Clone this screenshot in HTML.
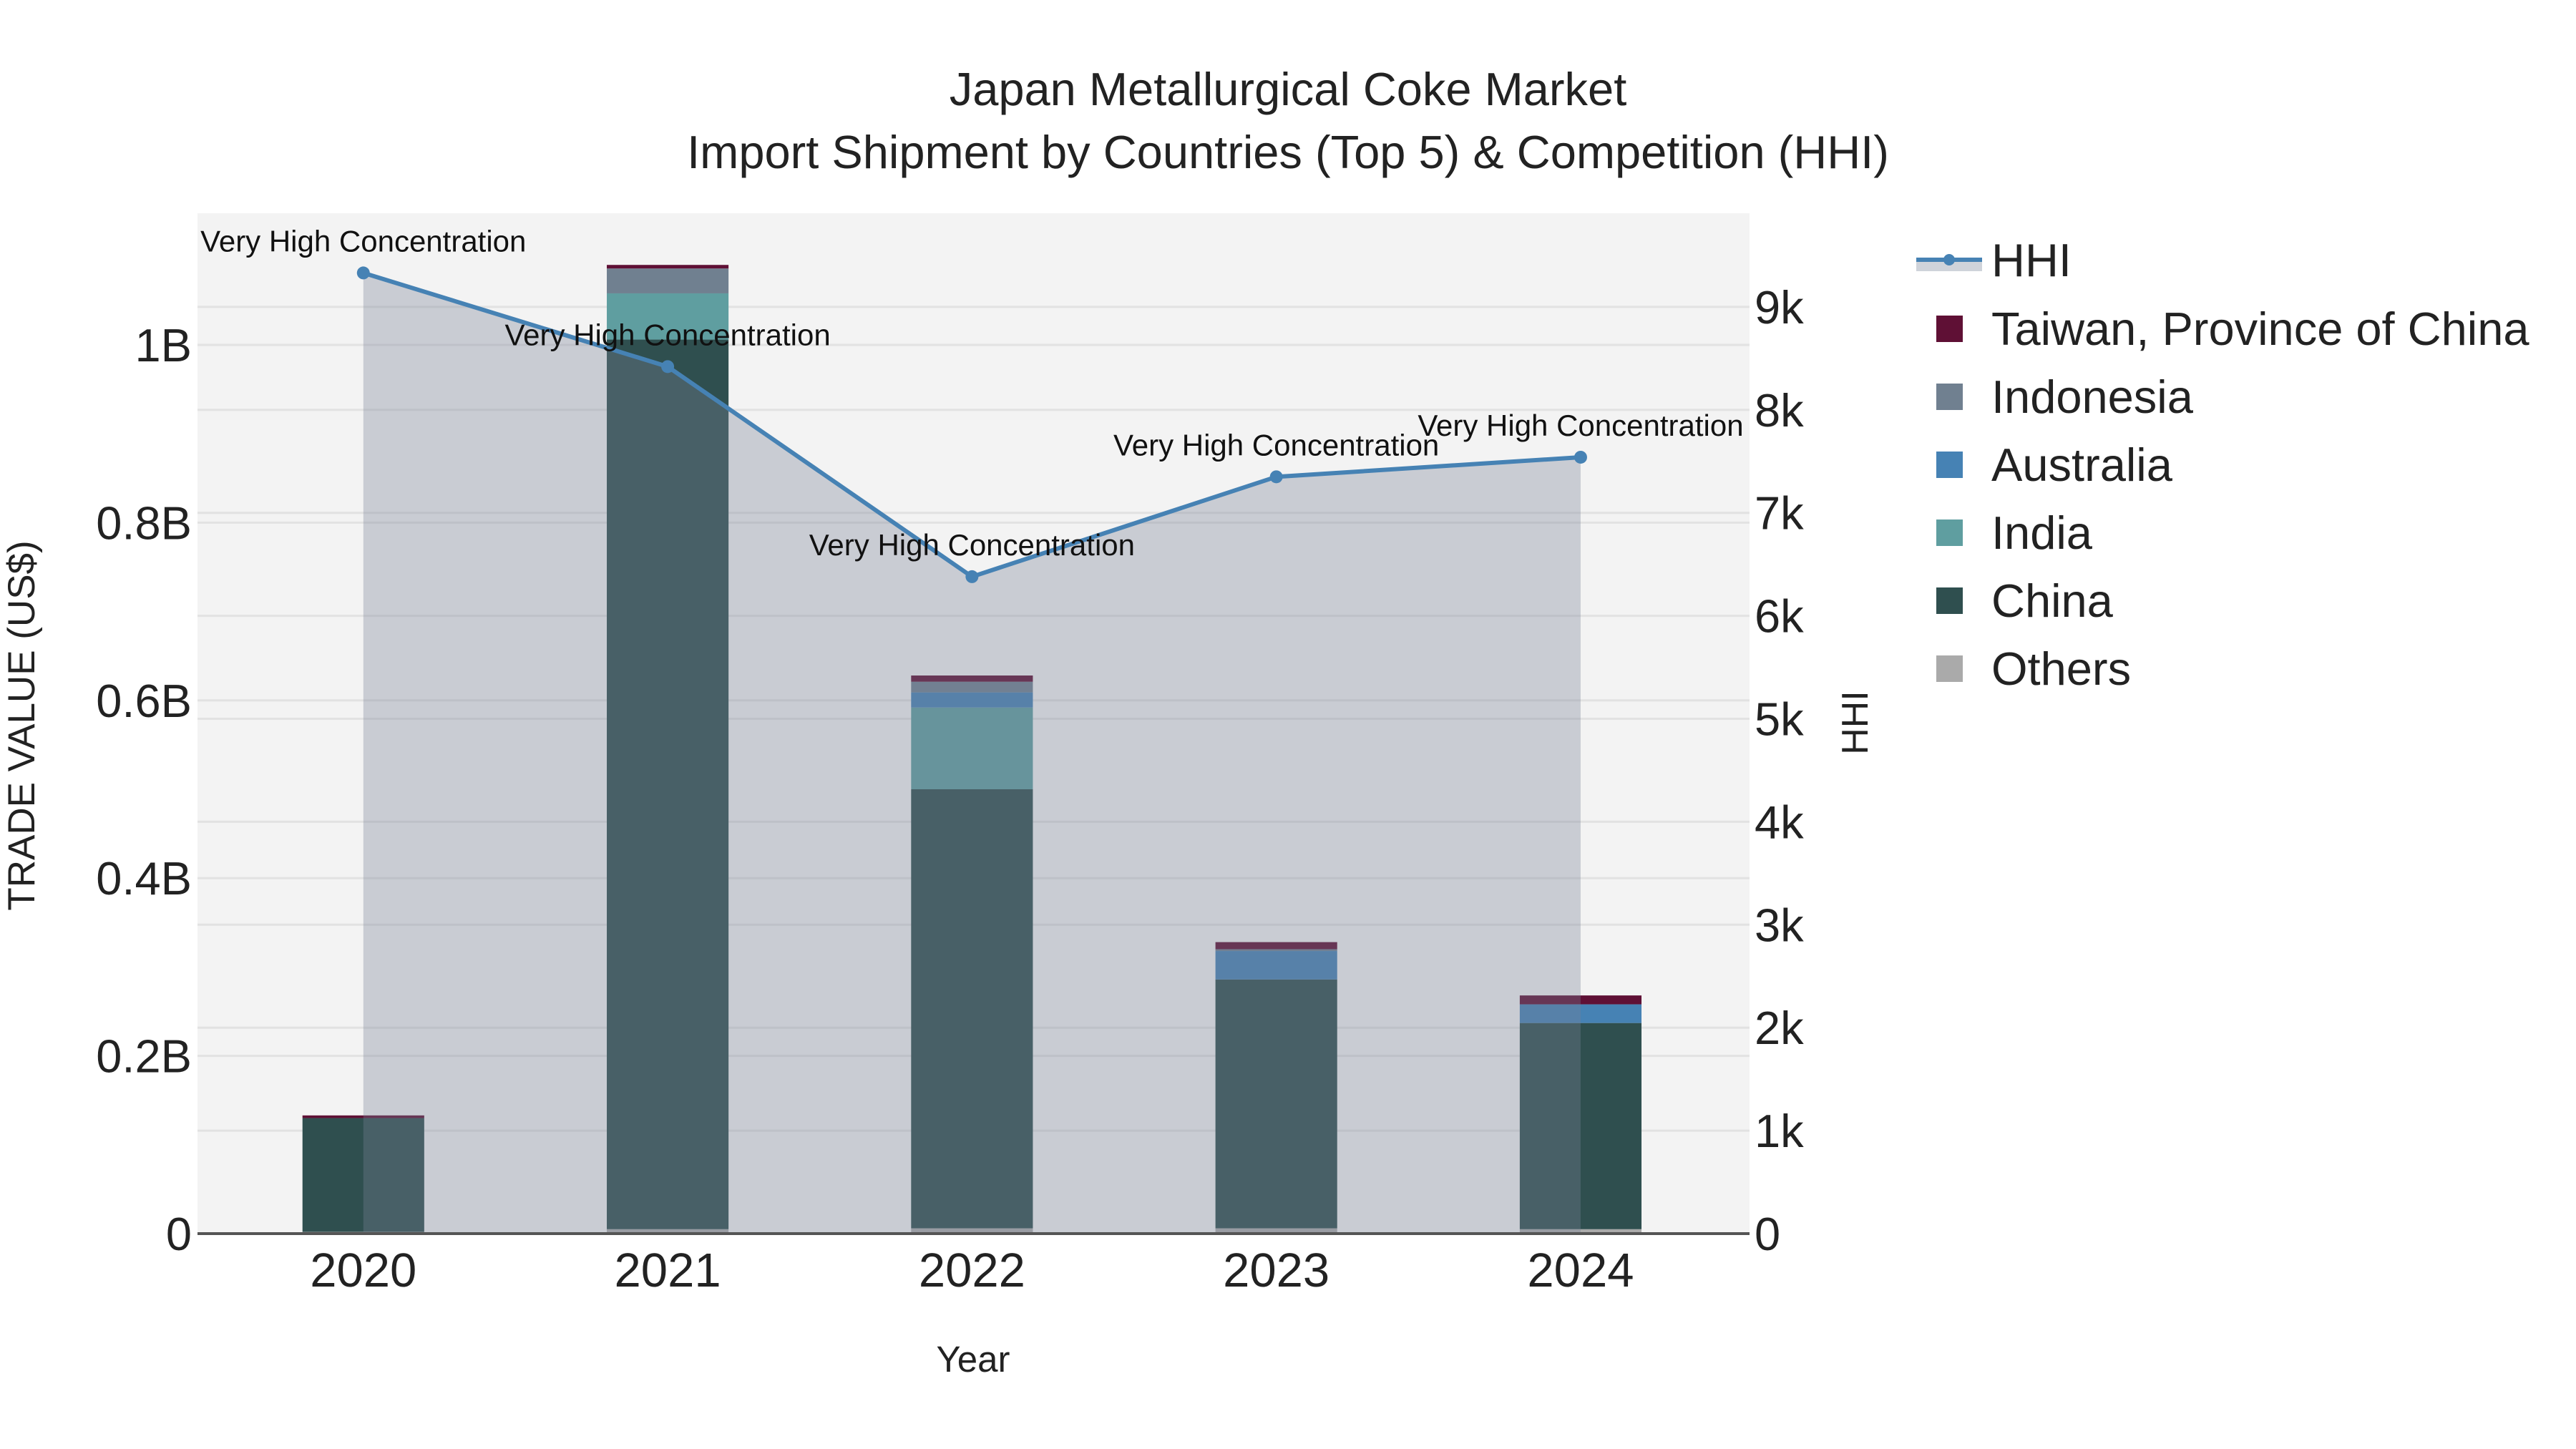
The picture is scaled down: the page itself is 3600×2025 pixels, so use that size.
<!DOCTYPE html>
<html><head><meta charset="utf-8"><style>
html,body{margin:0;padding:0;background:#fff;}
svg{display:block;font-family:"Liberation Sans",sans-serif;}
</style></head><body>
<svg id="chart" width="3600" height="2025" viewBox="0 0 3600 2025" xmlns="http://www.w3.org/2000/svg">
<text x="1800" y="147" text-anchor="middle" font-size="65" fill="#222">Japan Metallurgical Coke Market</text>
<text x="1800" y="235" text-anchor="middle" font-size="65" fill="#222">Import Shipment by Countries (Top 5) &amp; Competition (HHI)</text>
<rect x="276" y="298" width="2169" height="1426" fill="#f3f3f3"/>
<g id="grid"></g><g id="bars"></g><g id="area"></g><g id="line"></g><g id="labels"></g><g id="axes"></g>
<text transform="translate(48,1014) rotate(-90)" text-anchor="middle" font-size="53" fill="#222">TRADE VALUE (US$)</text>
<text transform="translate(2610,1010) rotate(-90)" text-anchor="middle" font-size="52" fill="#222">HHI</text>
<text x="1360" y="1917" text-anchor="middle" font-size="51" fill="#222">Year</text>
<g id="legend"></g>
</svg>
<script>
const years = ["2020","2021","2022","2023","2024"];
const others = [0.002,0.005,0.006,0.006,0.005];
const china = [0.128,1.001,0.494,0.280,0.232];
const india = [0,0.052,0.092,0,0];
const australia = [0,0,0.017,0.032,0.021];
const indonesia = [0,0.028,0.012,0.002,0];
const taiwan = [0.003,0.004,0.007,0.008,0.010];
const hhi = [9330,8420,6380,7350,7540];
const leftTicks = [0,0.2,0.4,0.6,0.8,1.0];
const leftTickLabels = ["0","0.2B","0.4B","0.6B","0.8B","1B"];
const rightTicks = [0,1000,2000,3000,4000,5000,6000,7000,8000,9000];
const rightTickLabels = ["0","1k","2k","3k","4k","5k","6k","7k","8k","9k"];

const NS="http://www.w3.org/2000/svg";
const L=276,R=2445,T=298,B=1724;
const xs=i=>L+(i+0.545)*(R-L)/5.1;
const yl=v=>B-v*1242;
const yr=v=>B-v/1000*143.9;
function mk(tag,attrs,parent){const e=document.createElementNS(NS,tag);for(const k in attrs)e.setAttribute(k,attrs[k]);document.getElementById(parent).appendChild(e);return e;}

leftTicks.forEach((t,i)=>{
  const g=mk('line',{x1:L,x2:R,y1:yl(t),y2:yl(t),stroke:'#e2e2e2','stroke-width':3},'grid');
  
  
  const tx=mk('text',{x:268,y:yl(t)+23,'text-anchor':'end','font-size':65,fill:'#222'},'axes');
  tx.textContent=leftTickLabels[i];
  
  
});
rightTicks.forEach((t,i)=>{
  const g=mk('line',{x1:L,x2:R,y1:yr(t),y2:yr(t),stroke:'#e2e2e2','stroke-width':3},'grid');
  
  
  const tx=mk('text',{x:2452,y:yr(t)+23,'font-size':65,fill:'#222'},'axes');
  tx.textContent=rightTickLabels[i];
  
  
});
years.forEach((y,i)=>{
  const tx=mk('text',{x:xs(i),y:1798,'text-anchor':'middle','font-size':67,fill:'#222'},'axes');
  tx.textContent=y;
  
  
});
const base=mk('line',{x1:L,x2:R,y1:B,y2:B,stroke:'#555','stroke-width':4},'axes');



const series=[["others",others,"#aaaaaa"],["china",china,"#2f4f4f"],["india",india,"#5f9ea0"],["australia",australia,"#4682b4"],["indonesia",indonesia,"#708090"],["taiwan",taiwan,"#5f1035"]];
const bw=(R-L)/5.1*0.4;
years.forEach((y,i)=>{
  let acc=0;
  series.forEach(([name,arr,col])=>{
    const v=arr[i]; if(v<=0) return;
    const r=mk('rect',{x:xs(i)-bw/2,y:yl(acc+v),width:bw,height:yl(acc)-yl(acc+v),fill:col},'bars');
    
    
    acc+=v;
  });
});
let pts=hhi.map((h,i)=>xs(i)+','+yr(h)).join(' ');
const area=mk('polygon',{points:xs(0)+','+B+' '+pts+' '+xs(4)+','+B,fill:'rgb(120,129,149)','fill-opacity':0.34},'area');


const pl=mk('polyline',{points:pts,fill:'none',stroke:'#4682b4','stroke-width':6},'line');


hhi.forEach((h,i)=>{
  const c=mk('circle',{cx:xs(i),cy:yr(h),r:9,fill:'#4682b4'},'line');
  
  
  const t=mk('text',{x:xs(i),y:yr(h)-30,'text-anchor':'middle','font-size':42,fill:'#111'},'labels');
  t.textContent='Very High Concentration';
  
  
});

const lg=[["Taiwan, Province of China","#5f1035"],["Indonesia","#708090"],["Australia","#4682b4"],["India","#5f9ea0"],["China","#2f4f4f"],["Others","#aaaaaa"]];
const hr=mk('rect',{x:2678,y:363,width:92,height:16,fill:'#cfd3da'},'legend');


const hl=mk('line',{x1:2678,x2:2770,y1:363,y2:363,stroke:'#4682b4','stroke-width':6},'legend');


const hc=mk('circle',{cx:2724,cy:363,r:8,fill:'#4682b4'},'legend');


const ht=mk('text',{x:2783,y:386,'font-size':65,fill:'#222'},'legend');
ht.textContent='HHI';


lg.forEach(([n,c],k)=>{
  const cy=459+k*95;
  const s=mk('rect',{x:2706,y:cy-18,width:37,height:37,fill:c},'legend');
  
  
  const t=mk('text',{x:2783,y:cy+23,'font-size':65,fill:'#222'},'legend');
  t.textContent=n;
  
  
});
</script>
</body></html>
